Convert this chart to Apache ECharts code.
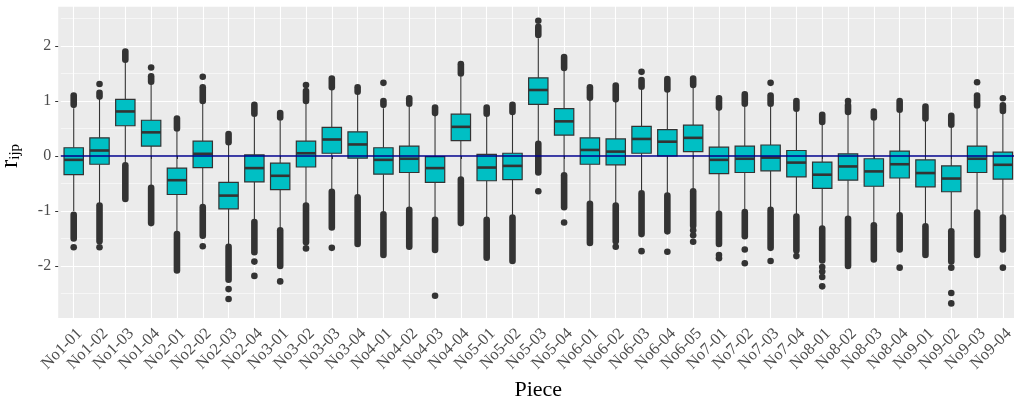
<!DOCTYPE html>
<html>
<head>
<meta charset="utf-8">
<script src="https://cdn.jsdelivr.net/npm/echarts@6/dist/echarts.min.js"></script>
<style>
  html, body { margin: 0; padding: 0; background: #ffffff; }
  #chart { width: 1014px; height: 403px; }
</style>
</head>
<body>
<div id="chart"></div>
<script>
const categories = ['No1-01','No1-02','No1-03','No1-04','No2-01','No2-02','No2-03','No2-04',
  'No3-01','No3-02','No3-03','No3-04','No4-01','No4-02','No4-03','No4-04',
  'No5-01','No5-02','No5-03','No5-04','No6-01','No6-02','No6-03','No6-04','No6-05',
  'No7-01','No7-02','No7-03','No7-04','No8-01','No8-02','No8-03','No8-04',
  'No9-01','No9-02','No9-03','No9-04'];

const q1 = [-0.34,-0.15,0.55,0.18,-0.70,-0.21,-0.96,-0.47,-0.61,-0.20,0.05,-0.04,
  -0.33,-0.30,-0.48,0.28,-0.45,-0.43,0.94,0.38,-0.15,-0.16,0.05,0.00,0.08,
  -0.32,-0.30,-0.27,-0.38,-0.59,-0.44,-0.55,-0.40,-0.56,-0.65,-0.30,-0.42];
const medians = [-0.07,0.10,0.81,0.43,-0.44,0.04,-0.72,-0.22,-0.36,0.05,0.30,0.21,
  -0.07,-0.05,-0.22,0.53,-0.21,-0.18,1.20,0.63,0.11,0.08,0.31,0.26,0.33,
  -0.07,-0.05,-0.03,-0.12,-0.34,-0.19,-0.28,-0.15,-0.31,-0.41,-0.05,-0.16];
const q3 = [0.15,0.33,1.03,0.65,-0.22,0.27,-0.48,0.02,-0.13,0.27,0.52,0.44,
  0.15,0.18,-0.01,0.76,0.03,0.05,1.42,0.86,0.33,0.31,0.54,0.48,0.56,
  0.16,0.18,0.20,0.10,-0.11,0.04,-0.05,0.09,-0.07,-0.18,0.18,0.07];
const whiskerLow = [-1.00,-0.86,-0.13,-0.53,-1.38,-0.89,-1.62,-1.16,-1.32,-0.87,-0.62,-0.71,
  -1.00,-0.95,-1.12,-0.39,-1.13,-1.07,0.26,-0.30,-0.83,-0.86,-0.64,-0.68,-0.59,
  -1.01,-0.98,-0.95,-1.06,-1.28,-1.10,-1.22,-1.04,-1.24,-1.32,-0.98,-1.08];
const whiskerHigh = [0.87,1.05,1.72,1.32,0.45,0.95,0.20,0.72,0.65,0.95,1.22,1.14,
  0.87,0.90,0.73,1.45,0.72,0.75,2.14,1.56,1.02,0.99,1.23,1.17,1.25,
  0.85,0.90,0.90,0.81,0.58,0.75,0.65,0.79,0.62,0.52,0.87,0.78];

// dense runs of overlapping outliers: [from, to]
const upperOutlierRuns = [[0.93,1.10],[1.08,1.15],[1.75,1.90],[1.35,1.45],[0.50,0.68],[1.00,1.25],
  [0.25,0.40],[0.77,0.93],[0.70,0.78],[1.00,1.18],[1.25,1.41],[1.17,1.25],
  [0.93,1.00],[0.95,1.05],[0.78,0.88],[1.50,1.67],[0.77,0.88],[0.80,0.93],
  [2.20,2.35],[1.60,1.80],[1.06,1.25],[1.03,1.28],[1.26,1.38],[1.21,1.40],[1.29,1.41],
  [0.88,1.05],[0.95,1.12],[0.95,1.10],[0.86,1.00],[0.62,0.75],[0.80,0.92],
  [0.70,0.81],[0.84,1.00],[0.68,0.90],[0.57,0.73],[0.92,1.10],[0.82,0.92]];
const lowerOutlierRuns = [[-1.07,-1.50],[-0.90,-1.55],[-0.17,-0.78],[-0.58,-1.22],[-1.42,-2.08],[-0.93,-1.45],
  [-1.65,-2.25],[-1.20,-1.75],[-1.35,-2.00],[-0.90,-1.57],[-0.65,-1.30],[-0.75,-1.60],
  [-1.06,-1.80],[-0.98,-1.65],[-1.16,-1.71],[-0.43,-1.22],[-1.16,-1.85],[-1.12,-1.91],
  [0.22,-0.30],[-0.35,-0.93],[-0.87,-1.58],[-0.90,-1.55],[-0.68,-1.42],[-0.72,-1.37],[-0.64,-1.27],
  [-1.05,-1.60],[-1.02,-1.46],[-0.98,-1.67],[-1.10,-1.72],[-1.32,-1.90],[-1.14,-2.00],
  [-1.26,-1.88],[-1.08,-1.70],[-1.28,-1.80],[-1.37,-1.92],[-1.03,-1.80],[-1.12,-1.70]];

// single outliers: [category, value]
const singleOutliers = [['No1-01',-1.66],['No1-02',1.31],['No1-02',-1.66],['No1-04',1.61],
  ['No2-02',1.44],['No2-02',-1.64],['No2-03',-2.42],['No2-03',-2.60],['No2-04',-1.92],['No2-04',-2.18],
  ['No3-01',-2.28],['No3-02',1.29],['No3-02',-1.68],['No3-03',-1.67],['No4-01',1.33],['No4-03',-2.54],
  ['No5-03',2.46],['No5-03',-0.64],['No5-04',-1.21],['No6-02',-1.65],['No6-03',1.53],['No6-03',-1.73],
  ['No6-04',-1.74],['No6-05',-1.35],['No6-05',-1.44],['No6-05',-1.56],['No7-01',-1.80],['No7-01',-1.86],
  ['No7-02',-1.70],['No7-02',-1.95],['No7-03',1.33],['No7-03',-1.91],['No7-04',-1.82],
  ['No8-01',-2.02],['No8-01',-2.10],['No8-01',-2.20],['No8-01',-2.37],['No8-02',1.00],
  ['No8-04',-2.03],['No9-02',-2.03],['No9-02',-2.49],['No9-02',-2.68],['No9-03',1.34],
  ['No9-04',1.05],['No9-04',-2.03]];

const yTicks = [-2,-1,0,1,2];

const serif = '"Liberation Serif", "DejaVu Serif", serif';
const DARK = '#333333';

const boxData = categories.map((c, i) => [i, whiskerLow[i], q1[i], medians[i], q3[i], whiskerHigh[i]]);
const runData = [];
categories.forEach((c, i) => {
  runData.push([i, upperOutlierRuns[i][0], upperOutlierRuns[i][1]]);
  runData.push([i, lowerOutlierRuns[i][0], lowerOutlierRuns[i][1]]);
});

const chart = echarts.init(document.getElementById('chart'), null, { renderer: 'canvas' });
chart.setOption({
  animation: false,
  backgroundColor: '#ffffff',
  graphic: {
    elements: [{
      type: 'rect', z: -10, silent: true,
      shape: { x: 58.2, y: 6.7, width: 970, height: 311.3 },
      style: { fill: '#EBEBEB' }
    }]
  },
  grid: { left: 60.8, right: -1.8, top: -9, bottom: 82, containLabel: false, outerBoundsMode: 'none' },
  xAxis: {
    type: 'category',
    data: categories,
    boundaryGap: true,
    offset: -3,
    axisLine: { show: false },
    axisTick: { show: true, alignWithLabel: true, length: 3, lineStyle: { color: DARK, width: 1 } },
    splitLine: { show: true, alignWithLabel: true, lineStyle: { color: '#ffffff', width: 1.1 } },
    axisLabel: {
      interval: 0, rotate: 45, margin: 7, align: 'right', verticalAlign: 'top',
      fontFamily: serif, fontSize: 16.5, color: '#4D4D4D'
    },
    name: 'Piece', nameLocation: 'middle', nameGap: 61,
    nameTextStyle: { fontFamily: serif, fontSize: 22, color: '#000000' }
  },
  yAxis: {
    type: 'value',
    min: -3, max: 3, interval: 1,
    offset: 2.6,
    axisLine: { show: false },
    axisTick: { show: true, length: 3, customValues: yTicks, lineStyle: { color: DARK, width: 1 } },
    axisLabel: {
      customValues: yTicks, margin: 7, fontFamily: serif, fontSize: 16, color: '#4D4D4D',
      formatter: v => (Math.abs(v) > 2.5 ? '' : String(v))
    },
    splitLine: { show: true, lineStyle: { color: '#ffffff', width: 1.1 } },
    minorTick: { show: false, splitNumber: 2 },
    minorSplitLine: { show: true, lineStyle: { color: '#ffffff', width: 0.55 } },
    name: '{r|r}{s|ijp}', nameLocation: 'middle', nameRotate: 90, nameGap: 30,
    nameTextStyle: {
      rich: {
        r: { fontFamily: serif, fontSize: 25, color: '#000', lineHeight: 25, verticalAlign: 'top', padding: [0, 0, 4, 0] },
        s: { fontFamily: serif, fontSize: 15, color: '#000', lineHeight: 15, verticalAlign: 'bottom' }
      }
    }
  },
  series: [
    {
      type: 'custom',
      name: 'boxes',
      z: 2,
      data: boxData,
      encode: { x: 0, y: [1, 2, 3, 4, 5] },
      renderItem: function (params, api) {
        const i = api.value(0);
        const band = api.size([1, 0])[0];
        const hw = band * 0.375;
        const pLo = api.coord([i, api.value(1)]);
        const pQ1 = api.coord([i, api.value(2)]);
        const pMed = api.coord([i, api.value(3)]);
        const pQ3 = api.coord([i, api.value(4)]);
        const pHi = api.coord([i, api.value(5)]);
        const x = pQ1[0];
        return {
          type: 'group',
          children: [
            { type: 'line', shape: { x1: x, y1: pLo[1], x2: x, y2: pQ1[1] }, style: { stroke: DARK, lineWidth: 1.1 } },
            { type: 'line', shape: { x1: x, y1: pQ3[1], x2: x, y2: pHi[1] }, style: { stroke: DARK, lineWidth: 1.1 } },
            { type: 'rect', shape: { x: x - hw, y: pQ3[1], width: 2 * hw, height: pQ1[1] - pQ3[1] },
              style: { fill: '#00BFC4', stroke: DARK, lineWidth: 1.2 } },
            { type: 'line', shape: { x1: x - hw, y1: pMed[1], x2: x + hw, y2: pMed[1] },
              style: { stroke: DARK, lineWidth: 2.6 } }
          ]
        };
      }
    },
    {
      type: 'custom',
      name: 'outlier runs',
      z: 3,
      data: runData,
      encode: { x: 0, y: [1, 2] },
      renderItem: function (params, api) {
        const i = api.value(0);
        const a = api.coord([i, api.value(1)]);
        const b = api.coord([i, api.value(2)]);
        return {
          type: 'line',
          shape: { x1: a[0], y1: a[1], x2: b[0], y2: b[1] },
          style: { stroke: DARK, lineWidth: 6.6, lineCap: 'round' }
        };
      }
    },
    {
      type: 'scatter',
      name: 'outliers',
      z: 3,
      data: singleOutliers,
      symbol: 'circle',
      symbolSize: 6.6,
      itemStyle: { color: DARK, opacity: 1 },
      markLine: {
        silent: true,
        symbol: ['none', 'none'],
        label: { show: false },
        lineStyle: { color: '#00008B', width: 1.5, type: 'solid' },
        data: [{ yAxis: 0 }]
      }
    }
  ]
});
</script>
</body>
</html>
